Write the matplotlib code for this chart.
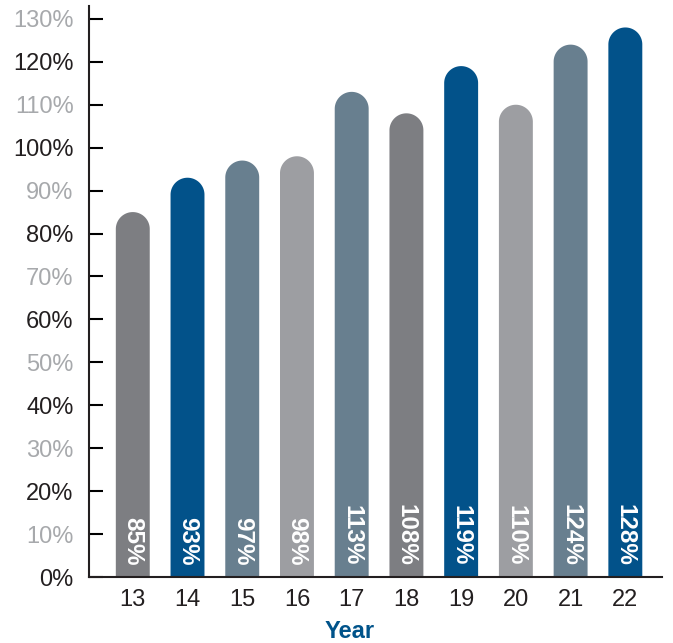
import numpy as np
import matplotlib.pyplot as plt
from matplotlib.patches import Polygon

years = ['13', '14', '15', '16', '17', '18', '19', '20', '21', '22']
values = [85, 93, 97, 98, 113, 108, 119, 110, 124, 128]
bar_colors = ['#7d7e82', '#02528a', '#687f8f', '#9d9ea2', '#687f8f',
              '#7d7e82', '#02528a', '#9d9ea2', '#687f8f', '#02528a']
yticks = [0, 10, 20, 30, 40, 50, 60, 70, 80, 90, 100, 110, 120, 130]

dark = '#231f20'
light = '#a7a9ac'
blue = '#00538a'

plt.rcParams['font.family'] = ['Liberation Sans', 'DejaVu Sans']

fig = plt.figure(figsize=(6.73, 6.43), dpi=100)
ax = fig.add_axes([89 / 673, 66 / 643, 573 / 673, 571 / 643])

bar_w = 0.62
ax.set_xlim(-0.80, 9.67)
ax.set_ylim(0, 133.0)

# rounded tops: cap height in data units so it looks like a half circle
p0 = ax.transData.transform((0, 0))
p1 = ax.transData.transform((bar_w, 1))
cap_r = (p1[0] - p0[0]) / 2 / (p1[1] - p0[1])

xs = list(range(len(years)))
theta = np.linspace(np.pi, 0, 60)
for x, v, c in zip(xs, values, bar_colors):
    top = v - cap_r
    arc_x = x + bar_w / 2 * np.cos(theta)
    arc_y = top + cap_r * np.sin(theta)
    px = np.concatenate([[x - bar_w / 2], arc_x, [x + bar_w / 2]])
    py = np.concatenate([[0], arc_y, [0]])
    ax.add_patch(Polygon(np.column_stack([px, py]), closed=True,
                         facecolor=c, edgecolor='none', zorder=2))

for x, v in zip(xs, values):
    ax.text(x, 2.6, f'{v}%', rotation=-90, ha='center', va='bottom',
            color='white', fontsize=17.5, fontweight='bold', zorder=3)

for s in ['top', 'right']:
    ax.spines[s].set_visible(False)
for s in ['left', 'bottom']:
    ax.spines[s].set_color(dark)
    ax.spines[s].set_linewidth(1.5)
    ax.spines[s].set_zorder(4)

ax.set_xticks(xs)
ax.set_xticklabels(years)
ax.tick_params(axis='x', length=0, pad=9, labelsize=17, labelcolor=dark)

ax.set_yticks(yticks)
ax.set_yticklabels([f'{t}%' for t in yticks])
ax.tick_params(axis='y', direction='in', length=10, width=1.5, pad=11,
               labelsize=17)
for t, tick, lab in zip(yticks, ax.yaxis.get_major_ticks(), ax.get_yticklabels()):
    c = dark if t % 20 == 0 else light
    tick.tick1line.set_color(c)
    lab.set_color(c)

ax.set_xlabel('Year', fontsize=17, fontweight='bold', color=blue)
ax.xaxis.set_label_coords(0.4555, -0.075)

fig.savefig('out.png', dpi=100)
